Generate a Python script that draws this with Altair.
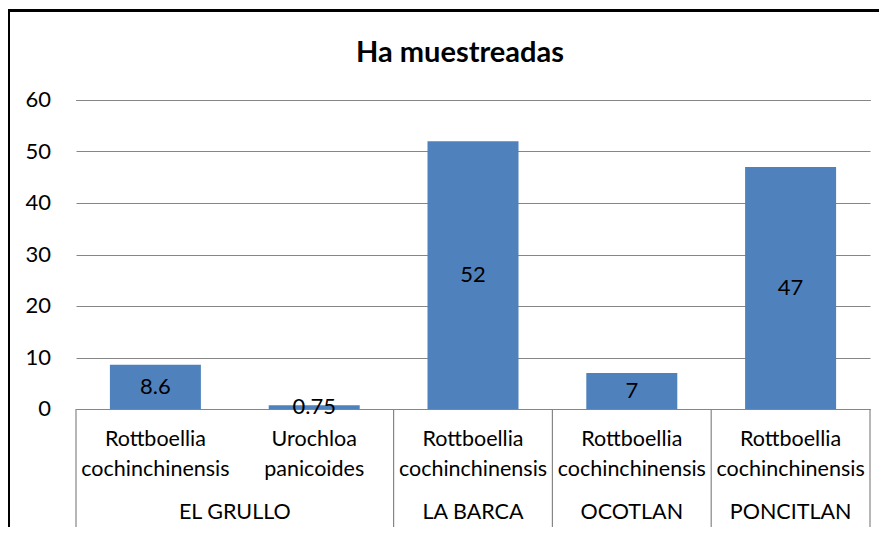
import altair as alt
import pandas as pd

# ---- data ----
municipios = ["EL GRULLO", "EL GRULLO", "LA BARCA", "OCOTLAN", "PONCITLAN"]
especies = [
    "Rottboellia cochinchinensis",
    "Urochloa panicoides",
    "Rottboellia cochinchinensis",
    "Rottboellia cochinchinensis",
    "Rottboellia cochinchinensis",
]
hectareas = [8.6, 0.75, 52, 7, 47]
y_ticks = [0, 10, 20, 30, 40, 50, 60]
titulo = "Ha muestreadas"

FONT = "Lato"
GRID = "#868686"
BAR = "#4F81BD"

n = len(hectareas)
ids = [f"c{i}" for i in range(n)]
df = pd.DataFrame({
    "id": ids,
    "municipio": municipios,
    "especie": [e.replace(" ", "\n") for e in especies],
    "ha": hectareas,
    "label": [f"{v:g}" for v in hectareas],
})
tdf = pd.DataFrame({"ha": y_ticks, "t": [str(v) for v in y_ticks]})

# group spans for the second category level
groups = []
for i, m in enumerate(municipios):
    if groups and groups[-1]["municipio"] == m:
        groups[-1]["end"] = i + 1
    else:
        groups.append({"municipio": m, "start": i, "end": i + 1})
gdf = pd.DataFrame(groups)
gdf["center"] = (gdf["start"] + gdf["end"]) / 2
bdf = pd.DataFrame({"b": sorted(set(gdf["start"]).union({n}))})

W, H = 794, 309

X = alt.X(
    "id:N",
    sort=ids,
    title=None,
    scale=alt.Scale(domain=ids, paddingInner=0.427, paddingOuter=0.2135),
    axis=alt.Axis(labels=False, ticks=False, domain=True, domainColor=GRID,
                  domainWidth=1.2, grid=False),
)
YS = alt.Scale(domain=[0, 60], nice=False)
Y = alt.Y(
    "ha:Q",
    title=None,
    scale=YS,
    axis=alt.Axis(values=y_ticks, domain=False, ticks=False, labels=False,
                  grid=True, gridColor=GRID, gridWidth=1.2),
)

base = alt.Chart(df)
bars = base.mark_bar(color=BAR).encode(x=X, y=Y)
vals = base.transform_calculate(mid="datum.ha / 2").mark_text(
    font=FONT, fontSize=22, baseline="middle", color="black"
).encode(x=X, y=alt.Y("mid:Q", scale=YS), text="label:N")
species = base.mark_text(
    font=FONT, fontSize=21.5, baseline="alphabetic", lineBreak="\n", lineHeight=30, color="black"
).encode(x=X, y=alt.value(346), text="especie:N")

ylabels = alt.Chart(tdf).mark_text(
    font=FONT, fontSize=22, baseline="middle", align="right", color="black"
).encode(x=alt.value(-25), y=alt.Y("ha:Q", scale=YS), text="t:N")

XQS = alt.Scale(domain=[0, n], nice=False, zero=False)
seps = alt.Chart(bdf).mark_rule(color=GRID, strokeWidth=1.2).encode(
    x=alt.X("b:Q", scale=XQS, axis=None), y=alt.value(H), y2=alt.value(427)
)
glabels = alt.Chart(gdf).mark_text(
    font=FONT, fontSize=21.5, baseline="alphabetic", color="black"
).encode(
    x=alt.X("center:Q", scale=XQS, axis=None),
    y=alt.value(419),
    text="municipio:N",
)

one = pd.DataFrame({"t": [titulo]})
title = alt.Chart(one).mark_text(
    font=FONT, fontSize=29, fontWeight="bold", baseline="alphabetic", align="center", color="black"
).encode(x=alt.value(384), y=alt.value(-38), text="t:N")
frame_top = alt.Chart(one).mark_rule(color="black", strokeWidth=3).encode(
    x=alt.value(-68), x2=alt.value(W + 20), y=alt.value(-89.5)
)
frame_left = alt.Chart(one).mark_rule(color="black", strokeWidth=3).encode(
    x=alt.value(-67.5), y=alt.value(-91), y2=alt.value(H + 130)
)

chart = alt.layer(
    bars, vals, species, ylabels, seps, glabels, title, frame_top, frame_left
).resolve_scale(x="independent").properties(
    width=W,
    height=H,
    autosize=alt.AutoSizeParams(type="none"),
    padding={"left": 68, "top": 92, "right": 9, "bottom": 118},
    background="white",
).configure_view(strokeWidth=0)

chart.save("out.html", embed_options={"renderer": "svg", "actions": False})
